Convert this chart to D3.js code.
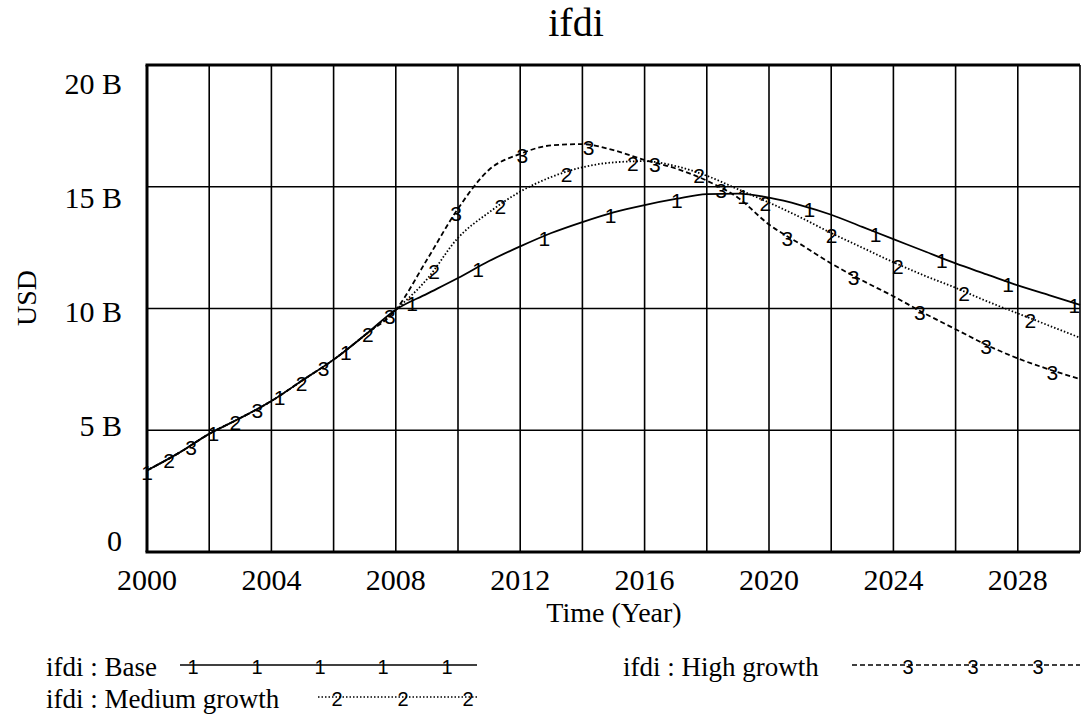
<!DOCTYPE html>
<html><head><meta charset="utf-8">
<script src="https://cdn.jsdelivr.net/npm/d3@7"></script>
<style>body{margin:0;background:#fff}</style>
</head><body><svg id="c" width="1082" height="727"></svg>
<script>
const years = d3.range(2000, 2031);
const base = [3.35,4.05,4.85,5.5,6.2,7.05,7.9,8.9,9.95,10.6,11.25,11.95,12.55,13.1,13.55,13.95,14.25,14.5,14.7,14.72,14.55,14.25,13.85,13.35,12.85,12.35,11.85,11.4,10.95,10.55,10.15];
const medium = [3.35,4.05,4.85,5.5,6.2,7.05,7.9,8.9,9.95,11.2,12.9,13.95,14.8,15.4,15.8,16.0,16.05,15.85,15.45,14.9,14.35,13.75,13.1,12.5,11.9,11.35,10.85,10.3,9.8,9.3,8.8];
const high = [3.35,4.05,4.85,5.5,6.2,7.05,7.9,8.9,9.95,12.0,14.1,15.7,16.35,16.7,16.75,16.5,16.1,15.75,15.25,14.55,13.45,12.65,11.85,11.15,10.5,9.8,9.15,8.5,7.95,7.5,7.1];
const seriesNames = ["ifdi : Base","ifdi : Medium growth","ifdi : High growth"];
const seriesMarkers = ["1","2","3"];
const yTicks = [0,5,10,15,20];
const yTickLabels = ["0","5 B","10 B","15 B","20 B"];
const xTicks = [2000,2004,2008,2012,2016,2020,2024,2028];
const xGrid = d3.range(2002, 2030, 2);
const title = "ifdi";
const xTitle = "Time (Year)";
const yTitle = "USD";

const svg = d3.select("#c");
const serif = "'Liberation Serif','Times New Roman',serif";
const sans = "'Liberation Sans',Arial,sans-serif";
const L = 147, R = 1080, T = 65, B = 552;
const x = d3.scaleLinear().domain([2000,2030]).range([L,R]);
const y = d3.scaleLinear().domain([0,20]).range([B,T]);
const yLab = d3.scaleLinear().domain([0,20]).range([540,83]);

// grid
const g = svg.append("g");
g.selectAll(".vg").data(xGrid).join("line")
  .attr("x1",d=>x(d)).attr("x2",d=>x(d)).attr("y1",T).attr("y2",B)
  .attr("stroke","#000").attr("stroke-width",1.6);
g.selectAll(".hg").data(yTicks.filter(d=>d>0&&d<20)).join("line")
  .attr("x1",L).attr("x2",R).attr("y1",d=>y(d)).attr("y2",d=>y(d))
  .attr("stroke","#000").attr("stroke-width",1.6);
// frame
svg.append("line").attr("x1",L-1.5).attr("x2",R).attr("y1",T).attr("y2",T).attr("stroke","#000").attr("stroke-width",3);
svg.append("line").attr("x1",L-1.5).attr("x2",R).attr("y1",B).attr("y2",B).attr("stroke","#000").attr("stroke-width",3);
svg.append("line").attr("x1",L).attr("x2",L).attr("y1",T).attr("y2",B).attr("stroke","#000").attr("stroke-width",3);
svg.append("line").attr("x1",R).attr("x2",R).attr("y1",T).attr("y2",B).attr("stroke","#000").attr("stroke-width",1.6);

// tick labels
svg.selectAll(".yl").data(yTicks).join("text")
  .attr("x",122).attr("y",d=>yLab(d)).attr("dy","0.35em").attr("text-anchor","end")
  .attr("font-family",serif).attr("font-size",30).text((d,i)=>yTickLabels[i]);
svg.selectAll(".xl").data(xTicks).join("text")
  .attr("x",d=>x(d)).attr("y",579).attr("dy","0.35em").attr("text-anchor","middle")
  .attr("font-family",serif).attr("font-size",30).text(d=>d);
svg.append("text").attr("x",576).attr("y",36).attr("text-anchor","middle")
  .attr("font-family",serif).attr("font-size",40).text(title);
svg.append("text").attr("x",614).attr("y",612).attr("dy","0.35em").attr("text-anchor","middle")
  .attr("font-family",serif).attr("font-size",28).text(xTitle);
svg.append("text").attr("transform","translate(26,298) rotate(-90)").attr("dy","0.35em").attr("text-anchor","middle")
  .attr("font-family",serif).attr("font-size",28).text(yTitle);

// series
const series = [base, medium, high];
const dashes = [null, "1.5,2", "5,3"];
const line = d3.line().x((d,i)=>x(years[i])).y(d=>y(d)).curve(d3.curveMonotoneX);
const plot = svg.append("g");
series.forEach((s,k)=>{
  plot.append("path").attr("d",line(s)).attr("fill","none").attr("stroke","#000")
    .attr("stroke-width",1.8).attr("stroke-dasharray",dashes[k]);
});
// markers
const step = 2.13, off = 0.71;
function valAt(s, yr){
  const i = Math.min(Math.floor(yr-2000), 29);
  const t = yr-2000-i;
  return s[i]*(1-t)+s[i+1]*t;
}
series.forEach((s,k)=>{
  const pts = [];
  for(let yr=2000+k*off; yr<=2030.01; yr+=step) pts.push(yr);
  plot.selectAll(".m"+k).data(pts).join("text")
    .attr("x",d=>x(d)).attr("y",d=>y(valAt(s,d))+2).attr("dy","0.36em").attr("text-anchor","middle")
    .attr("font-family",sans).attr("font-size",21).text(seriesMarkers[k]);
});

// legend
const legend = [
  {tx:46, ty:667, lx1:180, lx2:477, marks:[193,257,320,383,447]},
  {tx:46, ty:699, lx1:318, lx2:477, marks:[337,403,468]},
  {tx:623, ty:667, lx1:852, lx2:1080, marks:[908,973,1038]}
];
legend.forEach((l,k)=>{
  svg.append("text").attr("x",l.tx).attr("y",l.ty).attr("dy","0.35em")
    .attr("font-family",serif).attr("font-size",27).text(seriesNames[k]);
  svg.append("line").attr("x1",l.lx1).attr("x2",l.lx2).attr("y1",l.ty-2).attr("y2",l.ty-2)
    .attr("stroke","#000").attr("stroke-width",1.6).attr("stroke-dasharray",dashes[k]);
  svg.selectAll(".lm"+k).data(l.marks).join("text")
    .attr("x",d=>d).attr("y",l.ty).attr("dy","0.36em").attr("text-anchor","middle")
    .attr("font-family",sans).attr("font-size",20).text(seriesMarkers[k]);
});
</script></body></html>
